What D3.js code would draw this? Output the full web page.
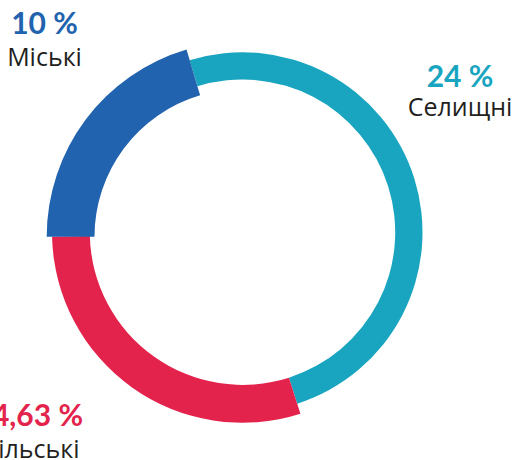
<!DOCTYPE html>
<html>
<head>
<meta charset="utf-8">
<script src="https://cdn.jsdelivr.net/npm/d3@7"></script>
<style>
    html, body { margin: 0; padding: 0; background: #fff; }
    svg { display: block; }
</style>
</head>
<body>
<div id="chart"></div>
<script>
// shares of settlements by type
var categories = ["Міські", "Селищні", "Сільські"];
var percents = [10, 24, 64.63];
// visible arc length of every ring piece, in degrees
var arcDegrees = [72.9, 179.4, 106.3];
var colors = ["#2163ae", "#19a5c0", "#e4234c"];

(function() {
    var width = 513,
        height = 460,
        cx = 242.5,
        cy = 232.2;

    var svg = d3.select("#chart").append("svg")
        .attr("width", width).attr("height", height);

    // every piece has its own band; the blue one sits a bit lower
    var bands = [
        { inner: 147.5, outer: 195.3, dx: -0.5, dy: 4.5, extra: 0.6 },
        { inner: 152.7, outer: 180, dx: 0, dy: 0, extra: 0 },
        { inner: 152.7, outer: 190.5, dx: 0, dy: 0, extra: 0 }
    ];

    var total = d3.sum(arcDegrees);
    var pie = d3.pie()
        .sort(null)
        .startAngle(-Math.PI / 2)
        .endAngle(-Math.PI / 2 + total * Math.PI / 180)
        .value(function(d) { return d; });

    var slices = pie(arcDegrees).map(function(s, i) {
        s.i = i;
        return s;
    });

    var arc = d3.arc();

    // draw blue last so it covers the seam
    var order = [1, 2, 0];
    svg.append("g")
        .selectAll("path")
        .data(order.map(function(i) { return slices[i]; }))
        .join("path")
        .attr("transform", function(d) {
            var b = bands[d.i];
            return "translate(" + (cx + b.dx) + "," + (cy + b.dy) + ")";
        })
        .attr("fill", function(d) { return colors[d.i]; })
        .attr("d", function(d) {
            var b = bands[d.i];
            return arc({
                innerRadius: b.inner,
                outerRadius: b.outer,
                startAngle: d.startAngle,
                endAngle: d.endAngle + b.extra * Math.PI / 180
            });
        });

    var fmt = function(v) {
        return String(v).replace(".", ",") + " %";
    };

    // label spots
    var labels = [
        { x: 44.5, y: 34.3, y2: 65.7, anchor: "middle" },
        { x: 460, y: 86.7, y2: 115.7, anchor: "middle" },
        { x: 83, y: 426, y2: 458.3, anchor: "end", x2: 79.5 }
    ];

    var g = svg.append("g").attr("class", "labels");

    labels.forEach(function(l, i) {
        g.append("text")
            .attr("x", l.x)
            .attr("y", l.y)
            .attr("text-anchor", l.anchor)
            .attr("font-family", "Lato, 'Open Sans', sans-serif")
            .attr("font-weight", 700)
            .attr("font-size", 30)
            .attr("fill", colors[i])
            .text(fmt(percents[i]));

        g.append("text")
            .attr("x", l.x2 || l.x)
            .attr("y", l.y2)
            .attr("text-anchor", l.anchor)
            .attr("font-family", "'Open Sans', sans-serif")
            .attr("font-size", 25)
            .attr("fill", "#231f20")
            .text(categories[i]);
    });
})();
</script>
</body>
</html>
